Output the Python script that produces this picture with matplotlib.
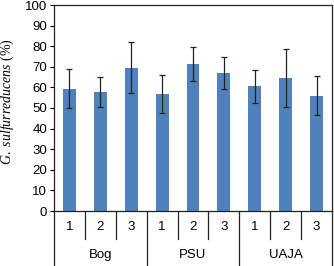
import matplotlib
matplotlib.use('Agg')
from matplotlib import pyplot as plt

groups = ['Bog', 'PSU', 'UAJA']
subs = ['1', '2', '3']
values = [59.4, 57.8, 69.6, 56.7, 71.3, 67.0, 60.5, 64.5, 56.0]
errors = [9.6, 7.3, 12.4, 9.1, 8.3, 7.7, 8.0, 14.1, 9.5]

plt.rcParams['font.family'] = 'Liberation Sans'
plt.rcParams['mathtext.fontset'] = 'custom'
plt.rcParams['mathtext.it'] = 'Liberation Serif:italic'
plt.rcParams['mathtext.rm'] = 'Liberation Serif'

fig = plt.figure(figsize=(3.34, 2.66), dpi=100)
ax = fig.add_axes([54 / 334, 55 / 266, 278 / 334, 206 / 266])

x = list(range(len(values)))
ax.bar(x, values, width=0.42, color='#4F81BD', zorder=2)
ax.errorbar(x, values, yerr=errors, fmt='none', ecolor='#222222', elinewidth=0.9,
            capsize=2.5, capthick=0.9, zorder=3)

ax.set_xlim(-0.5, len(values) - 0.5)
ax.set_ylim(0, 100)
ax.set_yticks(range(0, 101, 10))
ax.tick_params(axis='y', labelsize=9.5, length=3, width=0.8, direction='out', pad=2)
ax.set_xticks(x)
ax.set_xticklabels(subs * len(groups), fontsize=9.5)
ax.tick_params(axis='x', length=0, pad=7)
for s in ax.spines.values():
    s.set_color('#222222')
    s.set_linewidth(0.9)

ax.set_ylabel(r'$G.\ sulfurreducens$ (%)', family='Liberation Serif', fontsize=10)
ax.yaxis.set_label_coords(-0.137, 0.53)

# hierarchical category axis
tr = ax.get_xaxis_transform()
for i in range(len(values) + 1):
    xe = i - 0.5
    if i % 3 == 0:
        y0 = -0.262
    else:
        y0 = -0.134
    ax.plot([xe, xe], [0, y0], color='#222222', lw=0.9, transform=tr, clip_on=False)
for g, name in enumerate(groups):
    ax.text(g * 3 + 1, -0.215, name, transform=tr, ha='center', va='center', fontsize=9.5)

fig.savefig('out.png', dpi=100)
